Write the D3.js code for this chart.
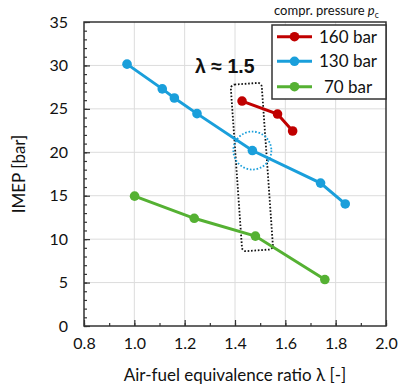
<!DOCTYPE html>
<html>
<head>
<meta charset="utf-8">
<script src="https://cdn.jsdelivr.net/npm/d3@7"></script>
<style>
  html, body { margin: 0; padding: 0; background: #fff; }
  svg { display: block; }
  text { font-family: Lato, "Open Sans", sans-serif; fill: #111; }
</style>
</head>
<body>
<svg id="chart" width="398" height="386"></svg>
<script>
// IMEP vs. air-fuel equivalence ratio for three compression pressures
const seriesNames = ["160 bar", "130 bar", "70 bar"];
const seriesColors = ["#c00000", "#1a9fdb", "#55b133"];
const lambda160 = [1.428, 1.569, 1.629];
const imep160   = [25.9, 24.4, 22.45];
const lambda130 = [0.971, 1.111, 1.159, 1.249, 1.469, 1.740, 1.838];
const imep130   = [30.15, 27.3, 26.25, 24.45, 20.2, 16.45, 14.05];
const lambda70  = [1.001, 1.238, 1.481, 1.757];
const imep70    = [14.95, 12.4, 10.35, 5.35];
const xTicks = [0.8, 1.0, 1.2, 1.4, 1.6, 1.8, 2.0];
const yTicks = [0, 5, 10, 15, 20, 25, 30, 35];
const xMinor = d3.range(0.8, 2.0001, 0.1);
const yMinor = d3.range(0, 35.0001, 1);

const series = [
  { name: seriesNames[0], color: seriesColors[0], xs: lambda160, ys: imep160 },
  { name: seriesNames[1], color: seriesColors[1], xs: lambda130, ys: imep130 },
  { name: seriesNames[2], color: seriesColors[2], xs: lambda70,  ys: imep70 }
];

const svg = d3.select("#chart");
const L = 84, R = 386, T = 22, B = 326;
const x = d3.scaleLinear().domain([0.8, 2.0]).range([L, R]);
const y = d3.scaleLinear().domain([0, 35]).range([B, T]);

// grid
const grid = svg.append("g");
grid.selectAll(".gx").data(xTicks.slice(1, -1)).join("line")
  .attr("x1", d => x(d)).attr("x2", d => x(d)).attr("y1", T).attr("y2", B)
  .attr("stroke", "#dcdcdc").attr("stroke-width", 1);
grid.selectAll(".gy").data(yTicks.slice(1, -1)).join("line")
  .attr("x1", L).attr("x2", R).attr("y1", d => y(d)).attr("y2", d => y(d))
  .attr("stroke", "#dcdcdc").attr("stroke-width", 1);

// axes with inward ticks
const xAxis = svg.append("g").attr("transform", `translate(0,${B})`)
  .call(d3.axisBottom(x).tickValues(xTicks).tickSize(-6).tickPadding(12)
    .tickFormat(d3.format(".1f")));
xAxis.select(".domain").remove();
xAxis.selectAll("text").attr("font-size", 16).attr("dy", "0.71em")
  .style("font-family", "Lato, sans-serif");
svg.append("g").attr("transform", `translate(0,${B})`)
  .call(d3.axisBottom(x).tickValues(xMinor).tickSize(-3).tickFormat(""))
  .select(".domain").remove();

const yAxis = svg.append("g").attr("transform", `translate(${L},0)`)
  .call(d3.axisLeft(y).tickValues(yTicks).tickSize(-6).tickPadding(16));
yAxis.select(".domain").remove();
yAxis.selectAll("text").attr("font-size", 16).style("font-family", "Lato, sans-serif");
svg.append("g").attr("transform", `translate(${L},0)`)
  .call(d3.axisLeft(y).tickValues(yMinor).tickSize(-3).tickFormat(""))
  .select(".domain").remove();
svg.selectAll(".tick line").attr("stroke", "#333").attr("stroke-width", 1.2);

// frame
svg.append("rect").attr("x", L).attr("y", T).attr("width", R - L).attr("height", B - T)
  .attr("fill", "none").attr("stroke", "#333").attr("stroke-width", 1.5);

// annotation: dotted box around lambda ~ 1.5
const boxCx = 1.467, boxCy = 18.3;
svg.append("rect")
  .attr("x", -15.5).attr("y", -83.5).attr("width", 31).attr("height", 167)
  .attr("rx", 4).attr("ry", 4)
  .attr("transform", `translate(${x(boxCx)},${y(boxCy)}) rotate(-4)`)
  .attr("fill", "none").attr("stroke", "#111").attr("stroke-width", 1.8)
  .attr("stroke-dasharray", "1.6,1.8");

// lines and markers
const line = d3.line().x(d => x(d[0])).y(d => y(d[1]));
const order = [2, 1, 0];
order.forEach(i => {
  const s = series[i];
  const pts = s.xs.map((v, k) => [v, s.ys[k]]);
  svg.append("path").datum(pts).attr("d", line)
    .attr("fill", "none").attr("stroke", s.color).attr("stroke-width", 3);
  svg.append("g").selectAll("circle").data(pts).join("circle")
    .attr("cx", d => x(d[0])).attr("cy", d => y(d[1])).attr("r", 4.8)
    .attr("fill", s.color);
});

// dotted circle around the 130 bar point at lambda ~ 1.5
svg.append("circle")
  .attr("cx", x(lambda130[4])).attr("cy", y(imep130[4])).attr("r", 19)
  .attr("fill", "none").attr("stroke", seriesColors[1]).attr("stroke-width", 1.8)
  .attr("stroke-dasharray", "1.6,1.8");

svg.append("text").attr("x", 195).attr("y", 73)
  .attr("font-size", 19.5).attr("font-weight", "bold")
  .style("font-family", "'Liberation Sans', Arial, sans-serif")
  .text("λ ≈ 1.5");

// legend
const lg = svg.append("g");
lg.append("rect").attr("x", 272).attr("y", 25).attr("width", 114).attr("height", 74)
  .attr("fill", "#fff").attr("stroke", "#333").attr("stroke-width", 1.5);
const rowY = [36.7, 61.3, 86.7];
series.forEach((s, i) => {
  lg.append("line").attr("x1", 277).attr("x2", 312).attr("y1", rowY[i]).attr("y2", rowY[i])
    .attr("stroke", s.color).attr("stroke-width", 3);
  lg.append("circle").attr("cx", 294.5).attr("cy", rowY[i]).attr("r", 4.8).attr("fill", s.color);
  lg.append("text").attr("x", 348).attr("y", rowY[i]).attr("dy", "0.36em")
    .attr("text-anchor", "middle").attr("font-size", 17).text(s.name);
});
const title = svg.append("text").attr("x", 274).attr("y", 15).attr("font-size", 13);
title.append("tspan").text("compr. pressure ");
title.append("tspan").attr("font-style", "italic").text("p");
title.append("tspan").attr("font-size", 8.5).attr("dy", 3).text("c");

// axis titles
svg.append("text").attr("x", (L + R) / 2).attr("y", 381).attr("text-anchor", "middle")
  .attr("font-size", 17).text("Air-fuel equivalence ratio λ [-]");
svg.append("text").attr("transform", `translate(25,${(T + B) / 2}) rotate(-90)`)
  .attr("text-anchor", "middle").attr("font-size", 17).text("IMEP [bar]");
</script>
</body>
</html>
